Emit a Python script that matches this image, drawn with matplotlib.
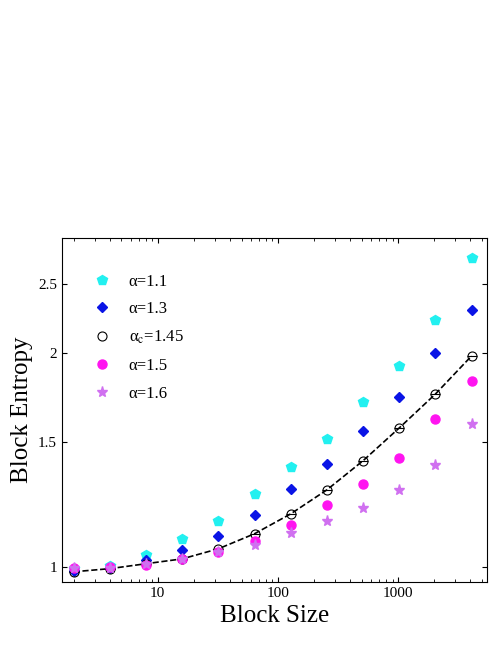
import matplotlib
matplotlib.use("Agg")
import matplotlib.pyplot as plt
from matplotlib.ticker import FixedLocator, NullFormatter, FixedFormatter, NullLocator

plt.rcParams['font.family'] = ['Liberation Serif', 'DejaVu Serif']
plt.rcParams['mathtext.fontset'] = 'stix'

x = [2, 4, 8, 16, 32, 64, 128, 256, 512, 1024, 2048, 4096]
a11 = [0.994, 1.003, 1.04, 1.095, 1.16, 1.267, 1.383, 1.514, 1.706, 1.918, 2.226, 2.72]
a13 = [0.987, 0.997, 1.023, 1.056, 1.105, 1.183, 1.287, 1.396, 1.553, 1.734, 2.0, 2.30]
a145 = [0.984, 0.994, 1.01, 1.026, 1.06, 1.113, 1.187, 1.283, 1.41, 1.568, 1.75, 1.98]
a15 = [0.997, 1.0, 1.006, 1.026, 1.05, 1.088, 1.146, 1.222, 1.308, 1.422, 1.615, 1.826]
a16 = [0.997, 0.997, 1.01, 1.026, 1.05, 1.074, 1.116, 1.16, 1.21, 1.283, 1.391, 1.588]

fig = plt.figure(figsize=(4.98, 6.45), dpi=100)
ax = fig.add_axes([0.1245, 0.0977, 0.8535, 0.5333])
ax.set_xscale('log'); ax.set_yscale('log')
ax.plot(x, a145, '--', color='black', lw=1.2, zorder=1)
ax.plot(x, a11, 'p', color='#22f0f0', ms=7, ls='none', label='α=1.1')
ax.plot(x, a13, 'D', color='#0a14e6', ms=5.5, ls='none', label='α=1.3')
ax.plot(x, a145, 'o', mfc='none', mec='black', ms=6.5, mew=0.8, ls='none', label=r'α$_{\rm c}$=1.45')
ax.plot(x, a145, '_', color='black', ms=6.5, mew=0.8, ls='none')
ax.plot(x, a15, 'o', color='#ff14f0', ms=6.5, ls='none', label='α=1.5')
ax.plot(x, a16, '*', color='#d070f0', ms=8, ls='none', label='α=1.6')
ax.set_xlim(1.6, 5500)
ax.set_ylim(0.952, 2.9)
ax.yaxis.set_major_locator(FixedLocator([1, 1.5, 2, 2.5]))
ax.yaxis.set_major_formatter(FixedFormatter(['1', '1.5', '2', '2.5']))
ax.yaxis.set_minor_locator(NullLocator())
ax.xaxis.set_major_locator(FixedLocator([10, 100, 1000]))
ax.xaxis.set_major_formatter(FixedFormatter(['10', '100', '1000']))
ax.tick_params(which='both', direction='in', top=True, right=True, labelsize=11)
ax.set_xlabel('Block Size', fontsize=18)
ax.set_ylabel('Block Entropy', fontsize=18)
ax.legend(loc='upper left', frameon=False, fontsize=12, bbox_to_anchor=(0.02, 0.94), handletextpad=0.6, labelspacing=0.7)
fig.savefig('out.png', dpi=100)
